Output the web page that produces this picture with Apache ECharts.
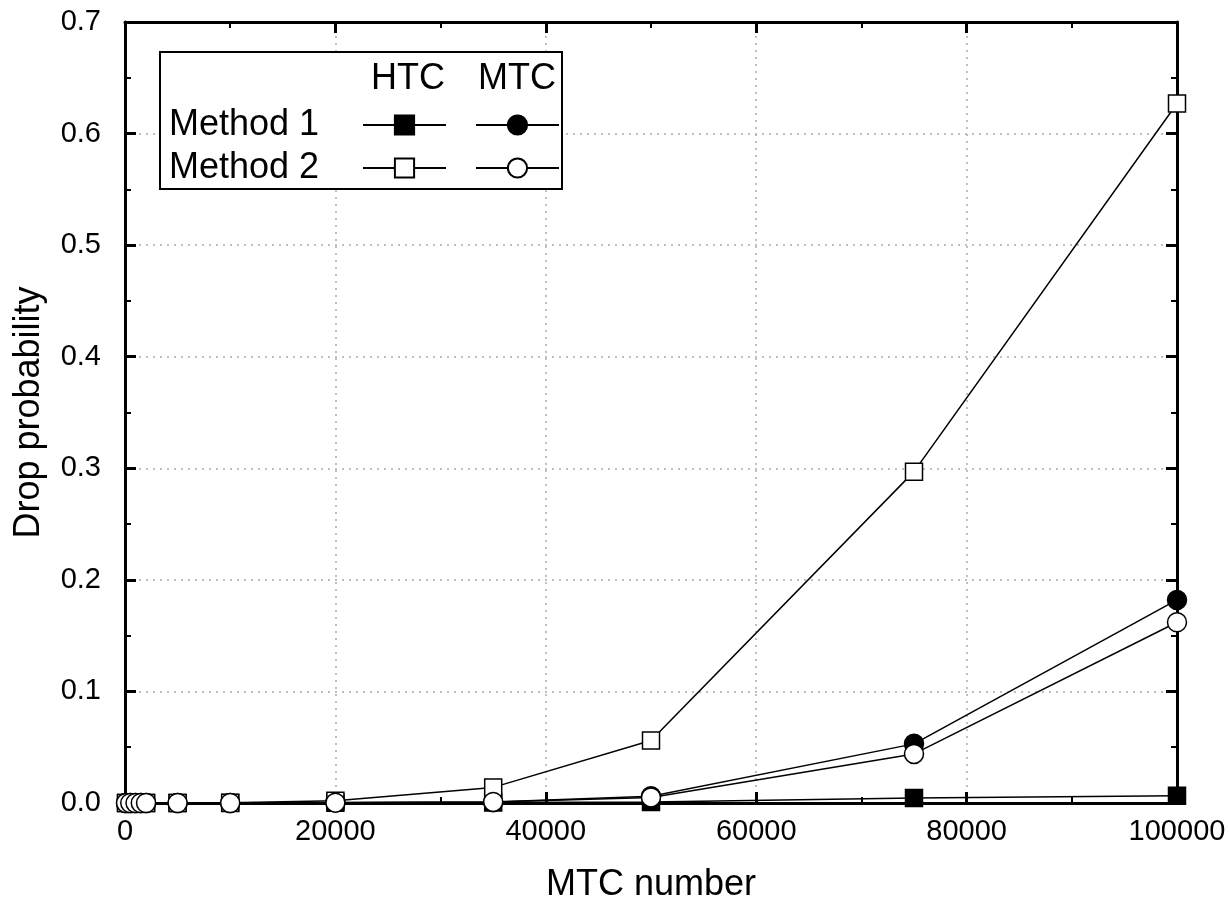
<!DOCTYPE html>
<html>
<head>
<meta charset="utf-8">
<script src="https://cdn.jsdelivr.net/npm/echarts@6/dist/echarts.min.js"></script>
<style>
  html, body { margin: 0; padding: 0; background: #fff; }
  #main { width: 1230px; height: 906px; }
</style>
</head>
<body>
<div id="main"></div>
<script>
// data
var mtcNumbers = [100, 500, 1000, 1500, 2000, 5000, 10000, 20000, 35000, 50000, 75000, 100000];
var htcMethod1 = [0, 0, 0, 0, 0, 0, 0, 0.0003, 0.0005, 0.001, 0.0045, 0.0065];
var mtcMethod1 = [0, 0, 0, 0, 0, 0, 0, 0.0005, 0.001, 0.006, 0.053, 0.182];
var htcMethod2 = [0, 0, 0, 0, 0, 0, 0.0002, 0.002, 0.014, 0.056, 0.297, 0.627];
var mtcMethod2 = [0, 0, 0, 0, 0, 0, 0, 0.0003, 0.001, 0.005, 0.044, 0.162];

var font = 'Liberation Sans, Arial, sans-serif';

function pairs(ys) {
  return mtcNumbers.map(function (x, i) { return [x, ys[i]]; });
}

function mkSeries(name, ys, symbol, size, fill, z) {
  return {
    name: name,
    type: 'line',
    data: pairs(ys),
    symbol: symbol,
    symbolSize: size,
    showAllSymbol: true,
    clip: false,
    z: z,
    lineStyle: { color: '#000', width: 1.5 },
    itemStyle: { color: fill, borderColor: '#000', borderWidth: 1.5 },
    emphasis: { disabled: true }
  };
}

function mkLegend(name, left, top) {
  return {
    data: [name],
    left: left,
    top: top,
    z: 20,
    itemWidth: 83,
    itemHeight: 24,
    itemGap: 0,
    padding: 0,
    selectedMode: false,
    formatter: function () { return ''; },
    textStyle: { fontSize: 1, padding: 0 }
  };
}

var axisCommon = {
  axisLine: { show: true, onZero: false, lineStyle: { color: '#000', width: 3 } },
  axisTick: { show: true, inside: true, length: 11, lineStyle: { color: '#000', width: 3 } },
  minorTick: { show: true, splitNumber: 2, length: 6, lineStyle: { color: '#000', width: 2 } }
};

var myChart = echarts.init(document.getElementById('main'));

var option = {
  animation: false,
  backgroundColor: '#fff',
  grid: { left: 125, right: 53, top: 22, bottom: 103, outerBoundsMode: 'none', containLabel: false },
  xAxis: [
    Object.assign({
      type: 'value', position: 'bottom', min: 0, max: 100000, interval: 20000,
      name: 'MTC number', nameLocation: 'middle', nameGap: 64,
      nameTextStyle: { fontFamily: font, fontSize: 36, color: '#000' },
      axisLabel: { fontFamily: font, fontSize: 29, color: '#000', margin: 14,
        formatter: function (v) { return String(v); } },
      splitLine: { show: true, lineStyle: { color: '#aaa', type: [2, 5], width: 1.5 } }
    }, axisCommon),
    Object.assign({
      type: 'value', position: 'top', min: 0, max: 100000, interval: 20000,
      axisLabel: { show: false }, splitLine: { show: false }
    }, axisCommon)
  ],
  yAxis: [
    Object.assign({
      type: 'value', position: 'left', min: 0, max: 0.7, interval: 0.1,
      name: 'Drop probability', nameLocation: 'middle', nameGap: 78,
      nameTextStyle: { fontFamily: font, fontSize: 36, color: '#000' },
      axisLabel: { fontFamily: font, fontSize: 29, color: '#000', margin: 24,
        formatter: function (v) { return v.toFixed(1); } },
      splitLine: { show: true, lineStyle: { color: '#aaa', type: [2, 5], width: 1.5 } }
    }, axisCommon),
    Object.assign({
      type: 'value', position: 'right', min: 0, max: 0.7, interval: 0.1,
      axisLabel: { show: false }, splitLine: { show: false }
    }, axisCommon)
  ],
  legend: [
    mkLegend('HTC Method 1', 362, 113),
    mkLegend('MTC Method 1', 475, 113),
    mkLegend('HTC Method 2', 362, 156),
    mkLegend('MTC Method 2', 475, 156)
  ],
  graphic: [
    { type: 'rect', shape: { x: 160, y: 52, width: 402, height: 137 },
      style: { fill: '#fff', stroke: '#000', lineWidth: 2 }, z: 3 },
    { type: 'text', x: 408, y: 79, z: 21,
      style: { text: 'HTC', font: '36px ' + font, fill: '#000', align: 'center', verticalAlign: 'middle' } },
    { type: 'text', x: 517, y: 79, z: 21,
      style: { text: 'MTC', font: '36px ' + font, fill: '#000', align: 'center', verticalAlign: 'middle' } },
    { type: 'text', x: 169, y: 125, z: 21,
      style: { text: 'Method 1', font: '36px ' + font, fill: '#000', align: 'left', verticalAlign: 'middle' } },
    { type: 'text', x: 169, y: 168, z: 21,
      style: { text: 'Method 2', font: '36px ' + font, fill: '#000', align: 'left', verticalAlign: 'middle' } }
  ],
  series: [
    mkSeries('HTC Method 1', htcMethod1, 'rect', 17, '#000', 4),
    mkSeries('MTC Method 1', mtcMethod1, 'circle', 19, '#000', 5),
    mkSeries('HTC Method 2', htcMethod2, 'rect', 17, '#fff', 6),
    mkSeries('MTC Method 2', mtcMethod2, 'circle', 19, '#fff', 7)
  ]
};

myChart.setOption(option);
</script>
</body>
</html>
